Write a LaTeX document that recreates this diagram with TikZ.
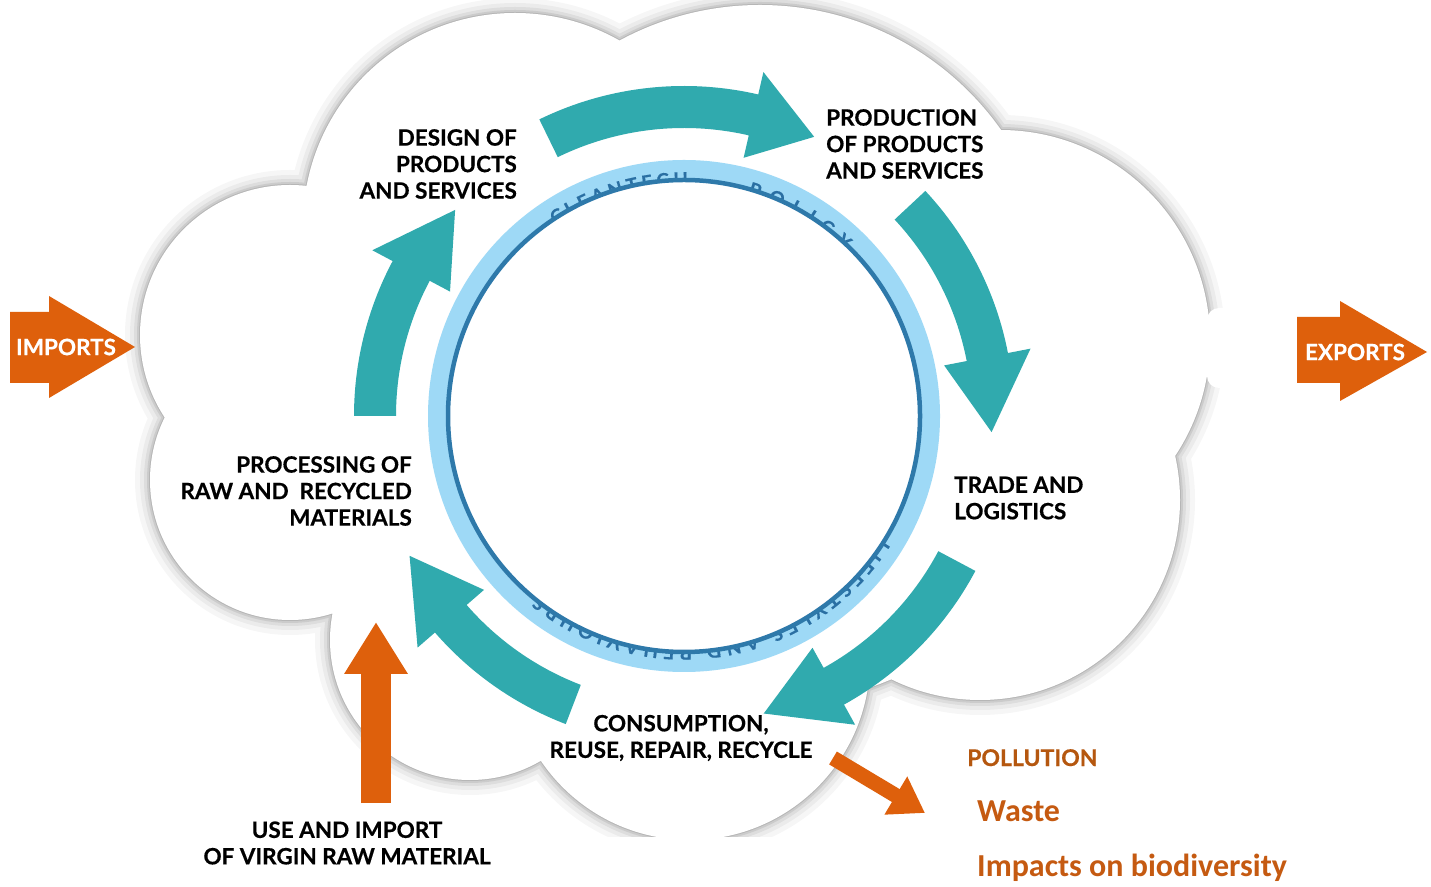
\documentclass[tikz,border=0pt]{standalone}
\usepackage{fontspec}
\setmainfont{Lato}[BoldFeatures={FakeBold=0.5}]
\newfontfamily\calfont{Carlito}
\usetikzlibrary{calc,decorations.text,arrows.meta}
\definecolor{tealA}{HTML}{30AAAE}
\definecolor{ringlight}{HTML}{9ED9F6}
\definecolor{ringdark}{HTML}{2E79AA}
\definecolor{ringtext}{HTML}{2A6FA3}
\definecolor{orng}{HTML}{DE600C}
\definecolor{brownA}{HTML}{B5570F}
\definecolor{orngB}{HTML}{C55A11}
\newcommand\ringfnt{\fontsize{19}{19}\selectfont\bfseries\color{ringtext}}
\def\cloudshape{(515,661) circle[radius=212] (760,586) circle[radius=295] (1000,546) circle[radius=210] (980,386) circle[radius=200] (690,226) circle[radius=180] (470,246) circle[radius=140] (290,406) circle[radius=140] (290,551) circle[radius=150] (680,466) ellipse[x radius=420,y radius=300]}
\newcommand\cycarrow[3]{%
  \fill[tealA] ($(C)+(#1:288)$) arc[start angle=#1, end angle=#2, radius=288]
    -- ($(C)+(#2:265)$) -- ($(C)+(#3:308)$) -- ($(C)+(#2:353)$)
    -- ($(C)+(#2:330)$) arc[start angle=#2, end angle=#1, radius=330] -- cycle;}
\begin{document}
\begin{tikzpicture}[x=1pt,y=1pt,
  lab/.style={font=\fontsize{22.5}{26.5}\selectfont\bfseries, inner sep=0pt, text=black},
  arrowtxt/.style={font=\fontsize{22.5}{22.5}\selectfont\bfseries, text=white, inner sep=0pt},
  orangearrow/.style={draw=orng, line cap=butt}]
\fill[white] (0,0) rectangle (1431,886);
\useasboundingbox (0,0) rectangle (1431,886);
\coordinate (C) at (684,470);
% cloud with soft shadow
\begin{scope}
\clip (0,50) rectangle (1431,886);
\draw[black, opacity=0.035, line width=30] \cloudshape;
\draw[black, opacity=0.045, line width=20] \cloudshape;
\draw[black, opacity=0.06, line width=12] \cloudshape;
\draw[black, opacity=0.08, line width=6] \cloudshape;
\draw[black, opacity=0.1, line width=2] \cloudshape;
\fill[white] \cloudshape;
\end{scope}
\fill[white, rounded corners=12] (1207,498) rectangle (1296,578);
% ring
\fill[ringlight] (C) circle[radius=256];
\path[decorate, decoration={text along path, text align=fit to path, text={|\ringfnt|CLEANTECH}}]
  ($(C)+(124:230)$) arc[start angle=124, end angle=89, radius=230];
\path[decorate, decoration={text along path, text align=fit to path, text={|\ringfnt|POLICY}}]
  ($(C)+(74:230)$) arc[start angle=74, end angle=46, radius=230];
\path[decorate, decoration={text along path, text align=fit to path, text={|\ringfnt|LIFESTYLES AND BEHAVIOURS}}]
  ($(C)+(-32:230)$) arc[start angle=-32, end angle=-129, radius=230];
\draw[ringdark, fill=white, line width=4.5] (C) circle[radius=236];
% cycle arrows
\cycarrow{116}{77}{65}
\cycarrow{43}{11}{-3}
\cycarrow{-28}{-61}{-75}
\cycarrow{249}{221}{207}
\cycarrow{180}{152}{138}
% labels
\node[lab, align=right, anchor=east] (design) at (517,722) {DESIGN OF\\PRODUCTS\\AND SERVICES};
\node[lab, align=left, anchor=west] (production) at (826,742) {PRODUCTION\\OF PRODUCTS\\AND SERVICES};
\node[lab, align=left, anchor=west] (trade) at (954,388) {TRADE AND\\LOGISTICS};
\node[lab, align=center] (consumption) at (681,148) {CONSUMPTION,\\REUSE, REPAIR, RECYCLE};
\node[lab, align=right, anchor=east] (processing) at (412,395) {PROCESSING OF\\RAW AND\ \ RECYCLED\\MATERIALS};
\node[lab, align=center] (virgin) at (347,43) {USE AND IMPORT\\OF VIRGIN RAW MATERIAL};
% imports / exports
\fill[orng] (10,574) -- (49,574) -- (49,590) -- (135,539) -- (49,488) -- (49,503) -- (10,503) -- cycle;
\node[arrowtxt] (imports) at (66,539) {IMPORTS};
\fill[orng] (1297,569) -- (1340,569) -- (1340,585) -- (1427,534) -- (1340,485) -- (1340,503) -- (1297,503) -- cycle;
\node[arrowtxt] (exports) at (1355,534) {EXPORTS};
% virgin material arrow
\coordinate (vtail) at (376,83);
\coordinate (vtip) at (376,264);
\draw[orangearrow, line width=30, -{Triangle[length=52pt,width=60pt]}] (vtail) -- (vtip);
% pollution
\coordinate (ptail) at (833,128);
\coordinate (ptip) at (925,73);
\draw[orangearrow, line width=15, -{Triangle[length=34pt,width=42pt]}] (ptail) -- (ptip);
\node[anchor=base west, inner sep=0pt, text=brownA, font=\fontsize{23}{23}\selectfont\bfseries] (pollution) at (967,120) {POLLUTION};
\node[anchor=base west, inner sep=0pt, text=orngB, font=\calfont\fontsize{32}{32}\selectfont\bfseries] (waste) at (977,65) {Waste};
\node[anchor=base west, inner sep=0pt, text=orngB, font=\calfont\fontsize{32}{32}\selectfont\bfseries] (biodiv) at (977,10) {Impacts on biodiversity};
\end{tikzpicture}
\end{document}
